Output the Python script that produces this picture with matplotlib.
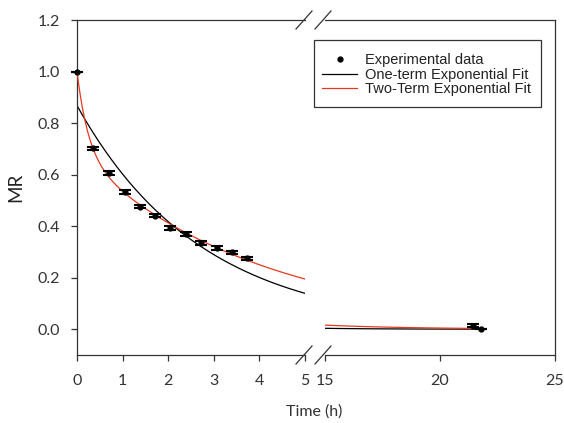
import numpy as np
import matplotlib
matplotlib.use("Agg")
import matplotlib.pyplot as plt
from matplotlib.lines import Line2D
from matplotlib.patches import Rectangle

# ---- data ----
t_early = [0.0, 0.35, 0.70, 1.05, 1.38, 1.71, 2.05, 2.39, 2.72, 3.06, 3.40, 3.73]
mr_early = [1.000, 0.703, 0.606, 0.532, 0.476, 0.440, 0.394, 0.371, 0.336, 0.316, 0.298, 0.276]
err_early = [0.0, 0.006, 0.007, 0.007, 0.007, 0.006, 0.008, 0.008, 0.008, 0.007, 0.007, 0.006]
t_late = [21.42, 21.78]
mr_late = [0.014, 0.000]
err_late = [0.005, 0.0]

# fitted model parameters
one_a, one_k = 0.868, 0.366
two_a, two_k1, two_b, two_k2 = 0.32, 4.0, 0.68, 0.25

t_left = np.linspace(0, 5, 400)
t_right = np.linspace(15, 21.8, 100)

def one_term(t):
    return one_a * np.exp(-one_k * t)

def two_term(t):
    return two_a * np.exp(-two_k1 * t) + two_b * np.exp(-two_k2 * t)

W, H = 564, 423
fig = plt.figure(figsize=(W / 100, H / 100), dpi=100)
plt.rcParams['font.family'] = ['Lato', 'DejaVu Sans']

def fx(px):
    return px / W

def fy(py):
    return 1 - py / H

bottom, top = 355, 20
axL = fig.add_axes([fx(77), fy(bottom), fx(305) - fx(77), fy(top) - fy(bottom)])
axR = fig.add_axes([fx(325), fy(bottom), fx(555) - fx(325), fy(top) - fy(bottom)])

spine_c = '#333333'
red = '#e5381f'
lw = 0.9

for ax in (axL, axR):
    ax.set_ylim(-0.1, 1.2)
    for s in ax.spines.values():
        s.set_color(spine_c)
        s.set_linewidth(0.9)
    ax.tick_params(direction='out', length=4, width=0.9, color=spine_c,
                   labelsize=11.5, labelcolor='#333333', pad=8)
    ax.tick_params(axis='x', pad=10)

axL.set_xlim(0, 5)
axR.set_xlim(15, 25)
axL.spines['right'].set_visible(False)
axR.spines['left'].set_visible(False)
axR.tick_params(axis='y', left=False, labelleft=False)
axL.set_xticks([0, 1, 2, 3, 4, 5])
axR.set_xticks([15, 20, 25])
axL.set_yticks([0.0, 0.2, 0.4, 0.6, 0.8, 1.0, 1.2])
axL.set_yticklabels(['0.0', '0.2', '0.4', '0.6', '0.8', '1.0', '1.2'])

# curves
axL.plot(t_left, one_term(t_left), color='black', lw=lw, zorder=2)
axL.plot(t_left, two_term(t_left), color=red, lw=lw, zorder=3)
axR.plot(t_right, one_term(t_right), color='black', lw=lw, zorder=2)
axR.plot(t_right, two_term(t_right), color=red, lw=lw, zorder=3)

# data
for ax, t, m, e in ((axL, t_early, mr_early, err_early), (axR, t_late, mr_late, err_late)):
    ax.errorbar(t, m, yerr=e, fmt='o', color='black', ms=3.5, elinewidth=1.3,
                capsize=4, capthick=1.5, zorder=4, clip_on=False)

axL.set_ylabel('MR', fontsize=13.5, color='#222222', labelpad=10)
fig.text(fx(314), fy(412), 'Time (h)', fontsize=11.5, color='#333333',
         ha='center', va='center')

# break marks
def slash(cx, cy):
    fig.add_artist(Line2D([fx(cx - 8), fx(cx + 8)], [fy(cy + 9), fy(cy - 9)],
                          color=spine_c, lw=0.9, transform=fig.transFigure))

for cy in (top, bottom):
    slash(304, cy)
    slash(323, cy)

# legend (frame drawn separately so vertical padding can exceed horizontal)
handles = [
    Line2D([], [], marker='o', ls='none', color='black', ms=3.5),
    Line2D([], [], color='black', lw=lw),
    Line2D([], [], color=red, lw=lw),
]
labels = ['Experimental data', 'One-term Exponential Fit', 'Two-Term Exponential Fit']
leg = fig.legend(handles, labels, loc='upper left',
                 bbox_to_anchor=(fx(314), fy(45)), bbox_transform=fig.transFigure,
                 borderaxespad=0, frameon=False,
                 prop={'family': 'Liberation Sans', 'size': 10.5},
                 handlelength=2.4, handletextpad=0.55, labelspacing=0.05,
                 borderpad=0.55)
for txt in leg.get_texts():
    txt.set_color('#222222')
fig.add_artist(Rectangle((fx(314), fy(107.5)), fx(540.5) - fx(314), fy(40.5) - fy(107.5),
                         transform=fig.transFigure, fill=False,
                         edgecolor='#333333', lw=0.9, zorder=5))

fig.savefig('out.png', dpi=100)
